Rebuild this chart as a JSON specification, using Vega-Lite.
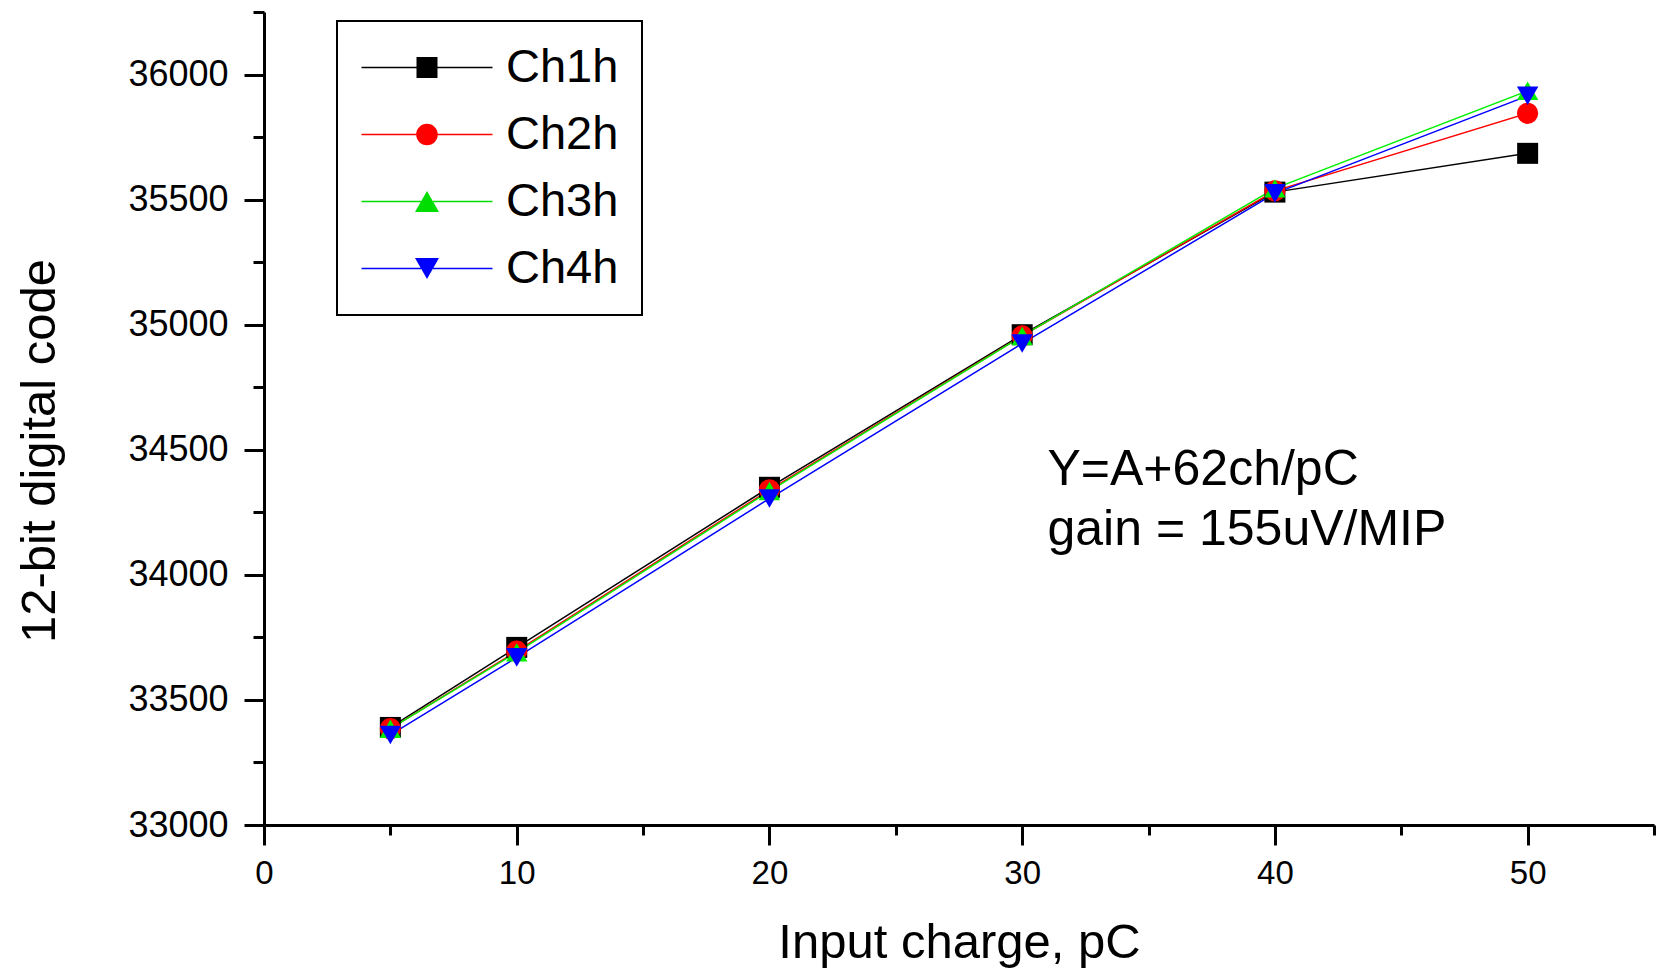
{
  "$schema": "https://vega.github.io/schema/vega-lite/v6.json",
  "width": 1390,
  "height": 813,
  "autosize": {"type": "none"},
  "padding": {"left": 264, "top": 12, "right": 10, "bottom": 144},
  "background": "white",
  "config": {
    "view": {"stroke": null},
    "font": "Liberation Sans",
    "legend": {
      "orient": "none",
      "legendX": 73,
      "legendY": 9,
      "padding": 23,
      "strokeColor": "black",
      "strokeWidth": 2,
      "fillColor": "white",
      "labelFont": "Liberation Sans",
      "labelFontSize": 47,
      "labelColor": "black",
      "symbolSize": 400,
      "symbolOffset": 43.5,
      "labelOffset": 55.5,
      "rowPadding": 19,
      "symbolStrokeWidth": 0
    }
  },
  "datasets": {
    "pts": [
      {"series": "Ch1h", "charge": 5, "code": 33390},
      {"series": "Ch1h", "charge": 10, "code": 33710},
      {"series": "Ch1h", "charge": 20, "code": 34350},
      {"series": "Ch1h", "charge": 30, "code": 34960},
      {"series": "Ch1h", "charge": 40, "code": 35530},
      {"series": "Ch1h", "charge": 50, "code": 35685},
      {"series": "Ch2h", "charge": 5, "code": 33385},
      {"series": "Ch2h", "charge": 10, "code": 33695},
      {"series": "Ch2h", "charge": 20, "code": 34340},
      {"series": "Ch2h", "charge": 30, "code": 34955},
      {"series": "Ch2h", "charge": 40, "code": 35535},
      {"series": "Ch2h", "charge": 50, "code": 35845},
      {"series": "Ch3h", "charge": 5, "code": 33385},
      {"series": "Ch3h", "charge": 10, "code": 33690},
      {"series": "Ch3h", "charge": 20, "code": 34335},
      {"series": "Ch3h", "charge": 30, "code": 34955},
      {"series": "Ch3h", "charge": 40, "code": 35545},
      {"series": "Ch3h", "charge": 50, "code": 35935},
      {"series": "Ch4h", "charge": 5, "code": 33360},
      {"series": "Ch4h", "charge": 10, "code": 33670},
      {"series": "Ch4h", "charge": 20, "code": 34305},
      {"series": "Ch4h", "charge": 30, "code": 34925},
      {"series": "Ch4h", "charge": 40, "code": 35525},
      {"series": "Ch4h", "charge": 50, "code": 35915}
    ],
    "notes": [
      {"charge": 31.0, "code": 34361, "t": "Y=A+62ch/pC"},
      {"charge": 31.0, "code": 34121, "t": "gain = 155uV/MIP"}
    ]
  },
  "encoding": {
    "x": {
      "field": "charge",
      "type": "quantitative",
      "scale": {"domain": [0, 55], "nice": false, "zero": false},
      "axis": {
        "title": "Input charge, pC",
        "values": [0, 5, 10, 15, 20, 25, 30, 35, 40, 45, 50, 55],
        "labelExpr": "datum.value % 10 === 0 ? datum.label : ''",
        "format": "d",
        "grid": false,
        "domainColor": "black",
        "domainWidth": 3,
        "tickColor": "black",
        "tickWidth": 3,
        "tickSize": {"condition": {"test": "datum.value % 10 === 0", "value": 20}, "value": 10},
        "labelFont": "Liberation Sans",
        "labelFontSize": 33,
        "labelColor": "black",
        "labelPadding": 12,
        "labelFlush": false,
        "labelOverlap": false,
        "labelBound": false,
        "titleFont": "Liberation Sans",
        "titleFontSize": 49,
        "titleFontWeight": "normal",
        "titleColor": "black",
        "titlePadding": 28
      }
    },
    "y": {
      "field": "code",
      "type": "quantitative",
      "scale": {"domain": [33000, 36250], "nice": false, "zero": false},
      "axis": {
        "title": "12-bit digital code",
        "values": [33000, 33250, 33500, 33750, 34000, 34250, 34500, 34750, 35000, 35250, 35500, 35750, 36000, 36250],
        "labelExpr": "datum.value % 500 === 0 ? datum.label : ''",
        "format": "d",
        "grid": false,
        "domainColor": "black",
        "domainWidth": 3,
        "tickColor": "black",
        "tickWidth": 3,
        "tickSize": {"condition": {"test": "datum.value % 500 === 0", "value": 20}, "value": 11},
        "labelFont": "Liberation Sans",
        "labelFontSize": 36,
        "labelColor": "black",
        "labelPadding": 16,
        "labelFlush": false,
        "labelOverlap": false,
        "labelBound": false,
        "titleFont": "Liberation Sans",
        "titleFontSize": 49,
        "titleFontWeight": "normal",
        "titleColor": "black",
        "titlePadding": 63,
        "titleY": 438.5
      }
    }
  },
  "layer": [
    {
      "data": {"name": "pts"},
      "mark": {"type": "line", "strokeWidth": 1.5},
      "encoding": {
        "stroke": {
          "field": "series",
          "type": "nominal",
          "scale": {"domain": ["Ch1h", "Ch2h", "Ch3h", "Ch4h"], "range": ["#000000", "#ff0000", "#00ee00", "#0000ff"]},
          "legend": {
            "title": null,
            "encode": {
              "symbols": {
                "update": {
                  "shape": {"signal": "datum.value === 'Ch1h' ? 'M-6.55,-0.07H-1.05V0.07H-6.55Z M1.05,-0.07H6.55V0.07H1.05Z M-1.05,-1.05H1.05V1.05H-1.05Z' : datum.value === 'Ch2h' ? 'M-6.55,-0.07H-1V0.07H-6.55Z M1,-0.07H6.55V0.07H1Z M-1.08,0A1.08,1.08,0,1,1,1.08,0A1.08,1.08,0,1,1,-1.08,0Z' : datum.value === 'Ch3h' ? 'M-6.55,-0.07H-0.6V0.07H-6.55Z M0.6,-0.07H6.55V0.07H0.6Z M0,-1.04L1.2,1.04H-1.2Z' : 'M-6.55,-0.07H-0.6V0.07H-6.55Z M0.6,-0.07H6.55V0.07H0.6Z M0,1.04L-1.2,-1.04H1.2Z'"},
                  "fill": {"signal": "datum.value === 'Ch1h' ? '#000000' : datum.value === 'Ch2h' ? '#ff0000' : datum.value === 'Ch3h' ? '#00dd00' : '#0000ff'"},
                  "strokeWidth": {"value": 0},
                  "size": {"value": 400},
                  "opacity": {"value": 1}
                }
              }
            }
          }
        }
      }
    },
    {
      "data": {"name": "pts"},
      "mark": {"type": "point", "filled": true, "opacity": 1, "strokeWidth": 0},
      "encoding": {
        "color": {
          "field": "series",
          "type": "nominal",
          "scale": {"range": ["#000000", "#ff0000", "#00ee00", "#0000ff"]},
          "legend": null
        },
        "shape": {
          "field": "series",
          "type": "nominal",
          "scale": {"range": ["square", "circle", "triangle-up", "triangle-down"]},
          "legend": null
        },
        "size": {
          "field": "series",
          "type": "nominal",
          "scale": {"range": [441, 460, 576, 576]},
          "legend": null
        }
      }
    },
    {
      "data": {"name": "notes"},
      "mark": {"type": "text", "align": "left", "baseline": "alphabetic", "fontSize": 50, "font": "Liberation Sans", "color": "black"},
      "encoding": {
        "text": {"field": "t", "type": "nominal"}
      }
    }
  ]
}
